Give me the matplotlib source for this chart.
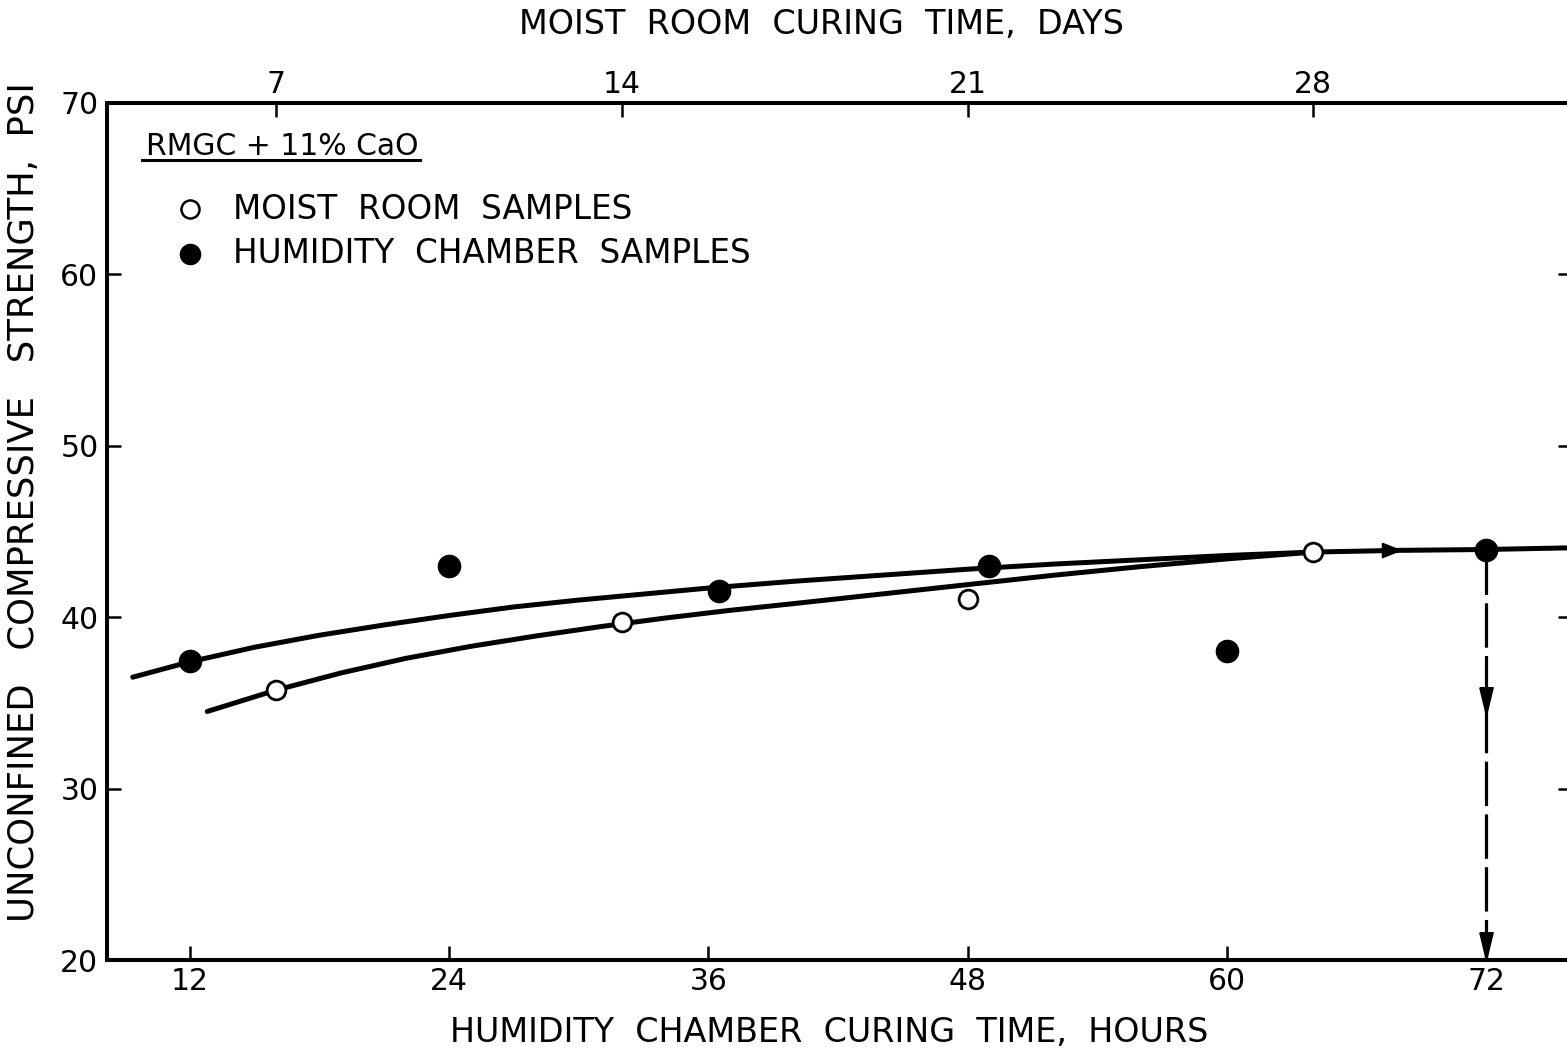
import matplotlib
matplotlib.use('Agg')
import matplotlib.pyplot as plt

plt.rcParams['font.family'] = ['DejaVu Sans']
plt.rcParams['lines.scale_dashes'] = False

# humidity chamber samples (hours, psi)
hc_hours = [12, 24, 36.5, 49, 60, 72]
hc_psi = [37.45, 43.0, 41.5, 43.0, 38.0, 43.9]

# moist room samples (days, psi)
mr_days = [7, 14, 21, 28]
mr_psi = [35.75, 39.7, 41.05, 43.8]

# hand-drawn trend curves read along their length
hc_curve_hours = [9.35, 12, 15, 18, 21, 24, 27, 30, 33, 36, 40, 44, 48, 52, 56, 60, 64, 68, 72, 76]
hc_curve_psi = [36.5, 37.4, 38.25, 38.95, 39.55, 40.1, 40.6, 41.0, 41.35, 41.7, 42.1, 42.45,
                42.8, 43.1, 43.35, 43.6, 43.8, 43.9, 43.95, 44.05]
mr_curve_hours = [12.8, 16, 19, 22, 25, 28, 31, 34, 37, 40, 44, 48, 52, 56, 60, 64]
mr_curve_psi = [34.5, 35.75, 36.75, 37.6, 38.3, 38.9, 39.45, 39.95, 40.4, 40.8, 41.35, 41.9,
                42.45, 42.95, 43.4, 43.8]

# 72 hour drop line and its arrows
drop_hours = [72, 72]
drop_psi = [43.9, 20]
down_arrow_psi = [34.3, 20]
right_arrow_hours = [68.0]
right_arrow_psi = [43.9]

hour_ticks = [12, 24, 36, 48, 60, 72]
day_ticks = [7, 14, 21, 28]
psi_ticks = [20, 30, 40, 50, 60, 70]


def hours_to_days(h):
    return h * 7.0 / 16.0


def days_to_hours(d):
    return d * 16.0 / 7.0


mr_hours = [days_to_hours(d) for d in mr_days]

fig = plt.figure(figsize=(15.67, 10.54), dpi=100)
ax = fig.add_axes([0.06815, 0.08918, 0.9353, 0.8131])

ax.plot(hc_curve_hours, hc_curve_psi, color='black', lw=3.6, solid_capstyle='round',
        solid_joinstyle='round', zorder=2)
ax.plot(mr_curve_hours, mr_curve_psi, color='black', lw=3.6, solid_capstyle='round',
        solid_joinstyle='round', zorder=2)

ax.plot(drop_hours, drop_psi, color='black', lw=2.3, dashes=(32, 6), zorder=2)

down_head = [(-0.24, 1.0), (0.24, 1.0), (0.0, 0.0), (-0.24, 1.0)]
right_head = [(-1.0, 0.4), (-1.0, -0.4), (0.0, 0.0), (-1.0, 0.4)]
ax.plot([drop_hours[0]] * 2, down_arrow_psi, linestyle='none', marker=down_head,
        markersize=40, color='black', zorder=3)
ax.plot(right_arrow_hours, right_arrow_psi, linestyle='none', marker=right_head,
        markersize=26, color='black', zorder=3)

ax.plot(mr_hours, mr_psi, 'o', markersize=13.5, markerfacecolor='white',
        markeredgecolor='black', markeredgewidth=2.0, zorder=4)
ax.plot(hc_hours, hc_psi, 'o', markersize=16, color='black', zorder=4)

ax.set_xlim(8.15, 76)
ax.set_ylim(20, 70)
ax.set_xticks(hour_ticks)
ax.set_yticks(psi_ticks)

for s in ax.spines.values():
    s.set_linewidth(2.9)

ax.tick_params(axis='x', direction='in', length=10, width=1.8, labelsize=21.5, pad=5)
ax.tick_params(axis='y', direction='in', length=10, width=1.8, labelsize=21.5, pad=6,
               right=True)

top = ax.secondary_xaxis('top', functions=(hours_to_days, days_to_hours))
top.set_xticks(day_ticks)
top.tick_params(direction='in', length=10, width=1.8, labelsize=21.5, pad=3)
top.spines['top'].set_linewidth(2.9)

# legend block
ax.text(0.027, 0.9487, 'RMGC + 11% CaO', transform=ax.transAxes, fontsize=21.5,
        ha='left', va='center')
ax.plot([0.024, 0.2137], [0.933, 0.933], transform=ax.transAxes, color='black', lw=2.2)
ax.plot([0.0568], [0.876], 'o', transform=ax.transAxes, markersize=13, markerfacecolor='white',
        markeredgecolor='black', markeredgewidth=1.8)
ax.plot([0.0568], [0.824], 'o', transform=ax.transAxes, markersize=14.5, color='black')
ax.text(0.086, 0.876, 'MOIST  ROOM  SAMPLES', transform=ax.transAxes, fontsize=23.5,
        ha='left', va='center')
ax.text(0.086, 0.824, 'HUMIDITY  CHAMBER  SAMPLES', transform=ax.transAxes, fontsize=23.5,
        ha='left', va='center')

fig.text(821 / 1567, 1 - 25 / 1054, 'MOIST  ROOM  CURING  TIME,  DAYS', fontsize=24,
         ha='center', va='center')
fig.text(829 / 1567, 1 - 1033 / 1054, 'HUMIDITY  CHAMBER  CURING  TIME,  HOURS', fontsize=24,
         ha='center', va='center')
fig.text(24 / 1567, 1 - 502 / 1054, 'UNCONFINED   COMPRESSIVE   STRENGTH,  PSI', fontsize=25.5,
         ha='center', va='center', rotation=90)

fig.savefig('out.png', dpi=100)
